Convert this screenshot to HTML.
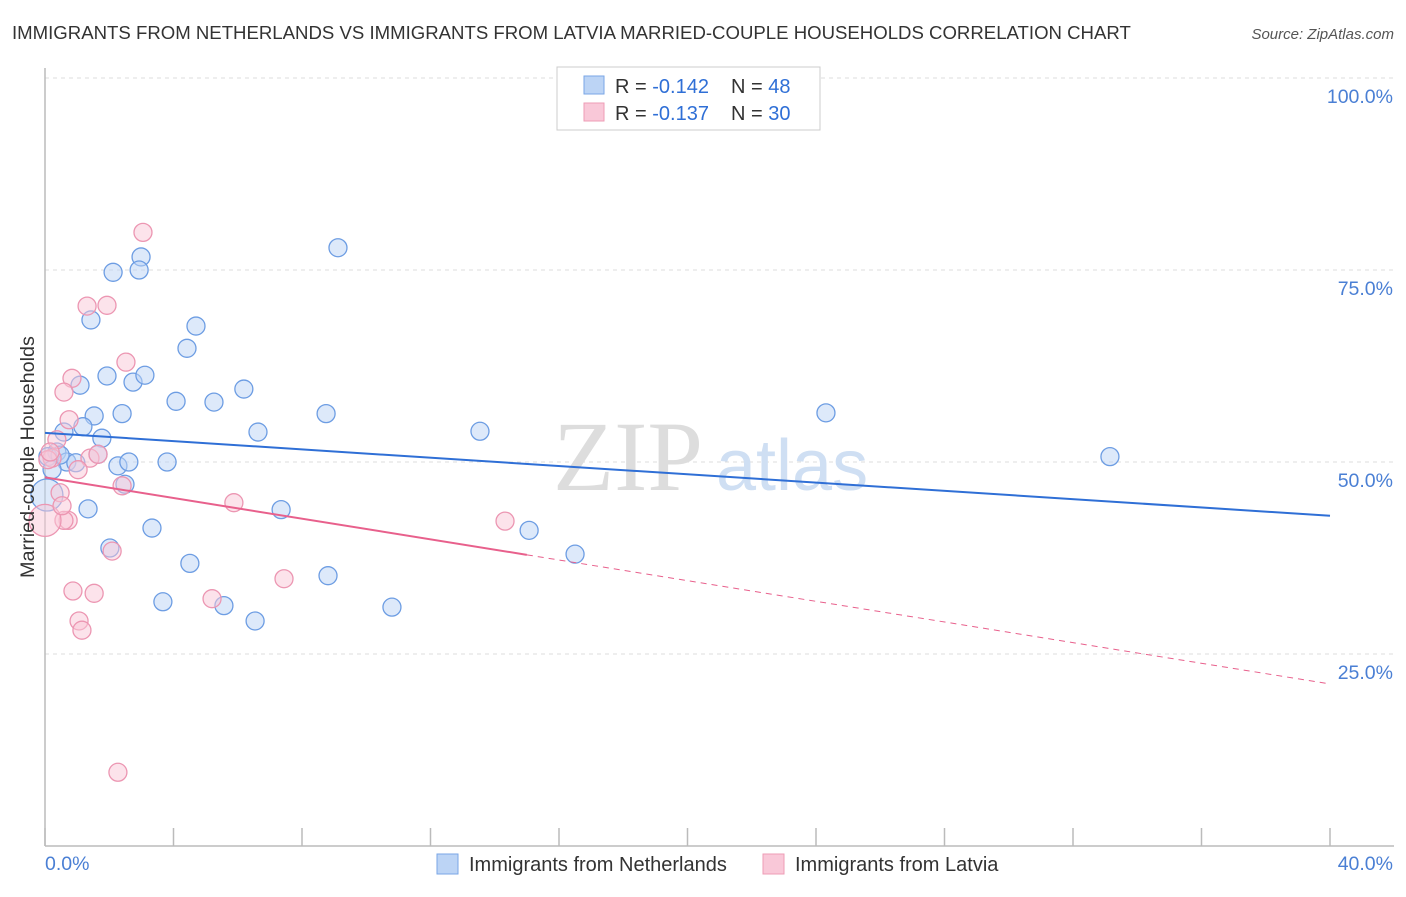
<!DOCTYPE html>
<html><head><meta charset="utf-8"><style>
body{margin:0;background:#fff;font-family:"Liberation Sans",sans-serif;}
svg text{font-family:"Liberation Sans",sans-serif;}
</style></head><body>
<svg id="chart" width="1406" height="892" xmlns="http://www.w3.org/2000/svg">
<text x="12" y="39" font-size="18.6" fill="#333">IMMIGRANTS FROM NETHERLANDS VS IMMIGRANTS FROM LATVIA MARRIED-COUPLE HOUSEHOLDS CORRELATION CHART</text>
<text x="1394" y="39" font-size="15" fill="#555" text-anchor="end" font-style="italic">Source: ZipAtlas.com</text>
<g id="grid"></g>
<text x="553" y="490" font-size="100" fill="#ddd" style="font-family:'Liberation Serif',serif">ZIP</text>
<text x="716" y="490" font-size="72" fill="#cfdff3">atlas</text>
<line x1="45" y1="68" x2="45" y2="846" stroke="#bbb" stroke-width="1.5"/>
<line x1="45" y1="846" x2="1394" y2="846" stroke="#bbb" stroke-width="1.5"/>
<g id="xticks"></g>
<g id="pts"></g>
<g id="lines"></g>
<text transform="translate(34,457) rotate(-90)" font-size="19.8" fill="#333" text-anchor="middle">Married-couple Households</text>
<text x="45" y="870" font-size="19.5" fill="#4a7fd4">0.0%</text>
<text x="1393" y="870" font-size="19.5" fill="#4a7fd4" text-anchor="end">40.0%</text>
<g>
<rect x="557" y="67" width="263" height="63" fill="#fff" stroke="#ccc"/>
<rect x="584" y="76" width="20" height="18" fill="#bcd4f5" stroke="#7aa6e6"/>
<rect x="584" y="103" width="20" height="18" fill="#f9c8d8" stroke="#ee9cb6"/>
<text x="615" y="93" font-size="20" fill="#333">R = <tspan fill="#2f6fd6">-0.142</tspan></text>
<text x="731" y="93" font-size="20" fill="#333">N = <tspan fill="#2f6fd6">48</tspan></text>
<text x="615" y="120" font-size="20" fill="#333">R = <tspan fill="#2f6fd6">-0.137</tspan></text>
<text x="731" y="120" font-size="20" fill="#333">N = <tspan fill="#2f6fd6">30</tspan></text>
</g>
<g>
<rect x="437" y="854" width="21" height="20" fill="#bcd4f5" stroke="#7aa6e6"/>
<text x="469" y="871" font-size="20" fill="#333">Immigrants from Netherlands</text>
<rect x="763" y="854" width="21" height="20" fill="#f9c8d8" stroke="#ee9cb6"/>
<text x="795" y="871" font-size="20" fill="#333">Immigrants from Latvia</text>
</g>
</svg>
<script>
const yTicks=[25,50,75,100];
const yTickLabels=["25.0%","50.0%","75.0%","100.0%"];
const xTicks=[0,4,8,12,16,20,24,28,32,36,40];
const blueX=[2.12,2.99,2.93,9.12,1.43,4.70,4.42,1.93,2.74,3.11,1.09,4.08,5.26,6.19,1.53,2.40,8.75,6.63,13.54,24.31,1.18,0.59,1.77,0.37,0.09,0.68,0.96,1.65,2.27,2.61,3.80,2.49,33.15,0.06,1.34,7.35,3.33,15.07,2.02,16.50,4.51,8.81,3.67,5.57,10.80,6.54,0.47,0.22];
const blueY=[74.7,76.7,75.0,77.9,68.5,67.7,64.8,61.2,60.4,61.3,60.0,57.9,57.8,59.5,56.0,56.3,56.3,53.9,54.0,56.4,54.6,53.9,53.1,51.3,50.7,50.0,49.9,51.0,49.5,50.0,50.0,47.1,50.7,45.7,43.9,43.8,41.4,41.1,38.8,38.0,36.8,35.2,31.8,31.3,31.1,29.3,50.9,49.0];
const pinkX=[3.05,1.31,1.93,2.52,0.84,0.59,0.75,0.37,0.22,0.09,1.40,1.03,2.40,0.47,5.88,0.72,14.32,2.09,0.59,0,0.87,1.53,5.20,7.44,1.06,1.15,2.27,1.65,0.16,0.53];
const pinkY=[79.9,70.3,70.4,63.0,60.9,59.1,55.5,52.9,50.5,50.3,50.5,49.0,46.9,46.0,44.7,42.4,42.3,38.4,42.4,42.4,33.2,32.9,32.2,34.8,29.3,28.1,9.6,51.0,51.3,44.3];
const blueTrend=[53.8,43.0];
const pinkTrend=[48.0,21.1];
const pinkSolidEnd=15;
const NS="http://www.w3.org/2000/svg";
const X=v=>45+v/40*1285, Y=v=>846-v*7.68;
function mk(tag,attrs,parent){const e=document.createElementNS(NS,tag);for(const k in attrs)e.setAttribute(k,attrs[k]);document.getElementById(parent).appendChild(e);return e;}
yTicks.forEach((t,i)=>{
 const l=mk('line',{x1:45,x2:1394,y1:Y(t),y2:Y(t),stroke:'#ddd','stroke-dasharray':'4,4'},'grid');
 
 
 const tx=mk('text',{x:1393,y:Y(t)+25,'font-size':19.5,fill:'#4a7fd4','text-anchor':'end'},'grid');
 tx.textContent=yTickLabels[i];
 
 
});
xTicks.forEach(t=>{
 const l=mk('line',{x1:X(t),x2:X(t),y1:828,y2:846,stroke:'#bbb','stroke-width':1.5},'xticks');
 
 
});
function pts(xs,ys,fill,stroke,name){xs.forEach((x,i)=>{
 const big=(x<0.1&&(name==='blue-point'?i===33:i===19));
 const c=mk('circle',{cx:X(x),cy:Y(ys[i]),r:big?16:9,fill:fill,'fill-opacity':0.5,stroke:stroke,'stroke-width':1.3},'pts');
 
 
});}
pts(blueX,blueY,'#bcd4f5','#6d9de3','blue-point');
pts(pinkX,pinkY,'#f9c8d8','#ec96b2','pink-point');
let l=mk('line',{x1:X(0),y1:Y(blueTrend[0]),x2:X(40),y2:Y(blueTrend[1]),stroke:'#2f6fd6','stroke-width':2},'lines');


const py=x=>pinkTrend[0]+(pinkTrend[1]-pinkTrend[0])*x/40;
l=mk('line',{x1:X(0),y1:Y(py(0)),x2:X(pinkSolidEnd),y2:Y(py(pinkSolidEnd)),stroke:'#e8608c','stroke-width':2},'lines');


l=mk('line',{x1:X(pinkSolidEnd),y1:Y(py(pinkSolidEnd)),x2:X(40),y2:Y(py(40)),stroke:'#e8608c','stroke-width':1,'stroke-dasharray':'6,5'},'lines');


</script>
</body></html>
